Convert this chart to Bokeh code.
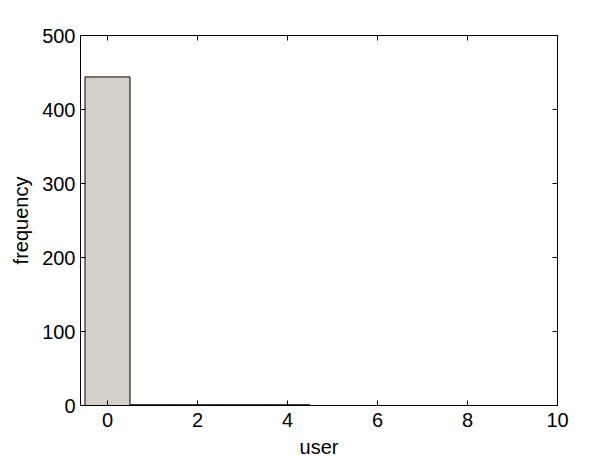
from bokeh.plotting import figure
from bokeh.models import LinearAxis, Range1d, FixedTicker, CustomJSTickFormatter
from bokeh.embed import file_html
from bokeh.resources import INLINE

# data
users = [0, 1, 2, 3, 4]
freq = [444, 1, 1, 1, 1]
x_ticks = [0, 2, 4, 6, 8, 10]
y_ticks = [0, 100, 200, 300, 400, 500]

FONT = "Liberation Sans"
FS = "20px"

p = figure(frame_width=477, frame_height=370, output_backend="svg", toolbar_location=None,
           x_range=Range1d(-0.6, 10), y_range=Range1d(0, 500),
           min_border_left=80, min_border_right=40, min_border_top=35, min_border_bottom=48,
           x_axis_label="user", y_axis_label="frequency")
p.background_fill_color = "white"
p.border_fill_color = "white"
p.outline_line_color = "black"
p.outline_line_width = 1
p.grid.visible = False

p.vbar(x=users, top=freq, bottom=0, width=1.0, fill_color="#d4d0c8", line_color="black", line_width=1)

def style(ax, ticks, labels=True):
    ax.ticker = FixedTicker(ticks=ticks)
    ax.major_tick_in = 5
    ax.major_tick_out = 0
    ax.minor_tick_in = 0
    ax.minor_tick_out = 0
    ax.axis_line_color = "black"
    ax.major_tick_line_color = "black"
    ax.major_label_text_font = FONT
    ax.major_label_text_font_size = FS
    ax.major_label_text_color = "black"
    ax.axis_label_text_font = FONT
    ax.axis_label_text_font_size = FS
    ax.axis_label_text_font_style = "normal"
    ax.axis_label_text_color = "black"
    if not labels:
        ax.formatter = CustomJSTickFormatter(code="return ''")

style(p.xaxis[0], x_ticks)
style(p.yaxis[0], y_ticks)
p.xaxis[0].major_label_standoff = 7
p.xaxis[0].axis_label_standoff = 6
p.yaxis[0].major_label_standoff = 5
p.yaxis[0].axis_label_standoff = 7

top = LinearAxis()
style(top, x_ticks, labels=False)
top.major_label_standoff = 0
p.add_layout(top, "above")
right = LinearAxis()
style(right, y_ticks, labels=False)
right.major_label_standoff = 0
p.add_layout(right, "right")

open("out.html", "w").write(file_html(p, INLINE))
